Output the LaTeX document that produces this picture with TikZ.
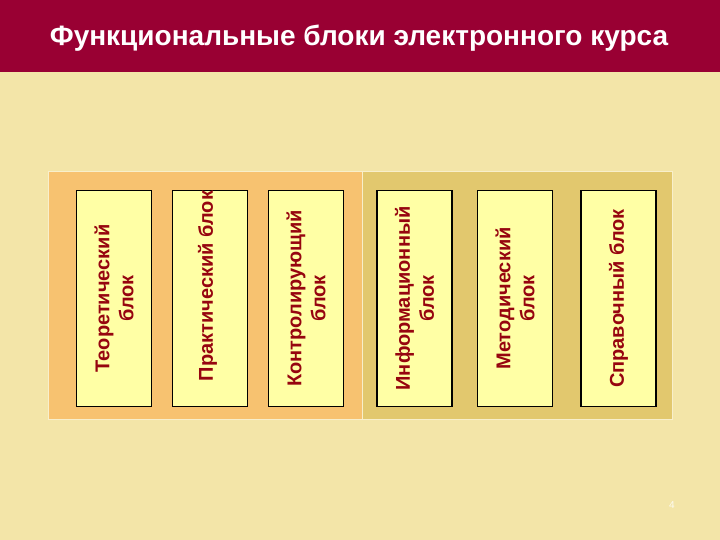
\documentclass[tikz,border=0pt]{standalone}
\usepackage{fontspec}
\setmainfont{Liberation Sans}
\definecolor{titlebar}{RGB}{153,0,51}
\definecolor{bgcream}{RGB}{243,229,168}
\definecolor{panelorange}{RGB}{247,194,112}
\definecolor{panelgold}{RGB}{226,200,110}
\definecolor{boxfill}{RGB}{255,255,165}
\definecolor{txtred}{RGB}{150,5,15}
\tikzset{
  blockbox/.style={draw=black, line width=1.6pt, fill=boxfill, rotate=90,
    minimum width=216pt, minimum height=75pt, inner sep=0pt,
    align=center, text=txtred, font=\fontsize{20}{24}\selectfont\bfseries},
  blocktext/.style={rotate=90, align=center, text=txtred, inner sep=0pt,
    font=\fontsize{20}{24}\selectfont\bfseries},
}
\begin{document}
\begin{tikzpicture}[x=1pt,y=-1pt]
\useasboundingbox (0,0) rectangle (720,540);
\fill[bgcream] (0,0) rectangle (720,540);
\fill[titlebar] (0,0) rectangle (720,72);
\node[text=white, font=\fontsize{28}{33}\selectfont\bfseries] (title) at (359,38) {Функциональные блоки электронного курса};
\fill[panelorange, draw=bgcream!60!white, line width=1pt] (48,172) rectangle (362,419);
\fill[panelgold, draw=bgcream!60!white, line width=1pt] (362,172) rectangle (672,419);
\node[blockbox] (b1) at (114,298.5) {Теоретический\\блок};
\node[blockbox] (b2) at (210,298.5) {};
\node[blocktext] (t2) at (207.5,286) {Практический блок};
\node[blockbox] (b3) at (306,298.5) {Контролирующий\\блок};
\node[blockbox] (b4) at (414.5,298.5) {Информационный\\блок};
\node[blockbox] (b5) at (515,298.5) {Методический\\блок};
\node[blockbox] (b6) at (618.5,298.5) {Справочный блок};
\node[text=white!85!bgcream, font=\fontsize{10}{12}\selectfont] (num) at (672,505) {4};
\end{tikzpicture}
\end{document}
